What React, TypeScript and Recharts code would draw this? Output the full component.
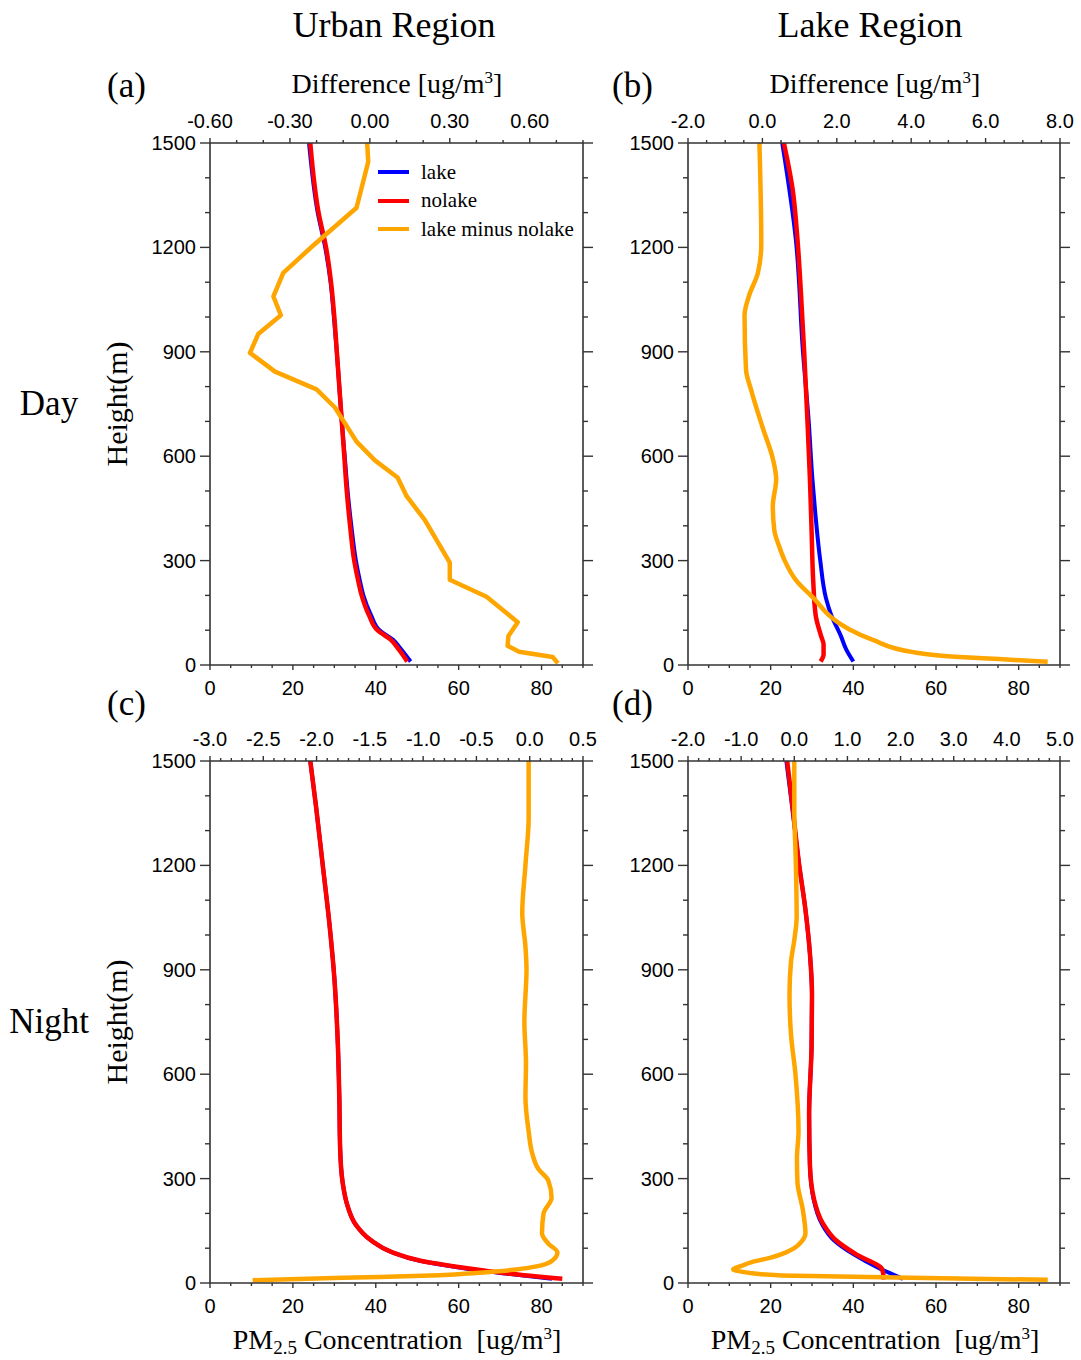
import React from 'react';
import { LineChart, Line, XAxis, YAxis, Legend } from 'recharts';

const SANS = '"Liberation Sans", Arial, Helvetica, sans-serif';
const SERIF = '"Liberation Serif", "Times New Roman", Times, serif';
const AXIS_COLOR = '#333333';
const C_LAKE = '#0000ff';
const C_NOLAKE = '#ff0000';
const C_DIFF = '#ffa500';

// ---------------- Panel (a) Urban / Day ----------------
const lakeA_h = [1500, 1300, 1200, 1100, 1000, 900, 800, 700, 600, 500, 400, 300, 240, 200, 142, 100, 73, 44, 10];
const lakeA_v = [23.9, 26.0, 27.8, 29.1, 29.9, 30.6, 31.2, 31.8, 32.5, 33.2, 34.1, 35.2, 36.2, 37.0, 38.9, 40.9, 44.1, 46.2, 48.4];
const nolakeA_h = [1500, 1300, 1200, 1100, 1000, 900, 800, 700, 600, 500, 400, 300, 240, 200, 142, 100, 73, 44, 10];
const nolakeA_v = [24.2, 26.2, 28.0, 29.2, 30.0, 30.6, 31.2, 31.8, 32.4, 33.0, 33.8, 34.8, 35.8, 36.6, 38.4, 40.4, 43.6, 45.6, 47.6];
const diffA_h = [1500, 1446, 1314, 1201, 1127, 1059, 1005, 951, 897, 843, 792, 740, 642, 588, 539, 485, 417, 294, 245, 196, 123, 83, 55, 38, 23, 5];
const diffA_v = [-0.01, -0.006, -0.05, -0.219, -0.325, -0.362, -0.334, -0.419, -0.45, -0.356, -0.2, -0.131, -0.05, 0.019, 0.104, 0.138, 0.206, 0.3, 0.3, 0.438, 0.555, 0.52, 0.517, 0.56, 0.686, 0.706];

// ---------------- Panel (b) Lake / Day ----------------
const lakeB_h = [1500, 1221, 902, 701, 534, 436, 300, 191, 145, 83, 44, 10];
const lakeB_v = [22.8, 26.1, 27.8, 29.2, 30.1, 30.8, 32.0, 33.4, 34.6, 37.0, 38.3, 40.0];
const nolakeB_h = [1500, 1368, 1221, 1074, 902, 701, 534, 387, 240, 142, 83, 59, 30, 10];
const nolakeB_v = [23.2, 25.3, 26.5, 27.3, 28.1, 28.9, 29.5, 29.9, 30.3, 30.9, 32.2, 32.8, 32.8, 32.1];
const diffB_h = [1500, 1211, 1127, 1064, 1005, 848, 789, 681, 593, 534, 456, 387, 338, 300, 244, 187, 142, 121, 103, 72, 37, 23, 17, 9];
const diffB_v = [-0.08, -0.03, -0.12, -0.35, -0.48, -0.44, -0.3, 0.01, 0.28, 0.37, 0.28, 0.32, 0.46, 0.6, 0.9, 1.42, 1.8, 2.05, 2.33, 2.97, 4.05, 5.3, 6.36, 7.67];

// ---------------- Panel (c) Urban / Night ----------------
const lakeC_h = [1500, 1368, 1201, 1034, 877, 701, 534, 387, 289, 221, 167, 123, 88, 64, 44, 29, 12];
const lakeC_v = [24.2, 25.6, 27.2, 28.8, 30.0, 30.8, 31.2, 31.4, 32.0, 33.2, 35.2, 38.8, 44.0, 50.6, 60.5, 70.0, 82.5];
const nolakeC_h = [1500, 1368, 1201, 1034, 877, 701, 534, 387, 289, 221, 167, 123, 88, 64, 44, 29, 12];
const nolakeC_v = [24.2, 25.6, 27.2, 28.8, 30.0, 30.8, 31.2, 31.4, 32.0, 33.2, 35.2, 38.8, 44.0, 50.8, 61.2, 70.8, 85.0];
const diffC_h = [1500, 1338, 1201, 1064, 966, 902, 750, 632, 534, 436, 377, 328, 294, 245, 200, 143, 113, 88, 64, 50, 38, 29, 22, 15, 8];
const diffC_v = [-0.01, -0.01, -0.04, -0.07, -0.04, -0.03, -0.05, -0.035, -0.04, -0.01, 0.02, 0.08, 0.175, 0.205, 0.13, 0.115, 0.175, 0.26, 0.21, 0.1, -0.15, -0.5, -0.85, -1.75, -2.6];

// ---------------- Panel (d) Lake / Night ----------------
const lakeD_h = [1500, 1368, 1201, 1074, 946, 828, 681, 485, 338, 240, 172, 123, 83, 44, 12];
const lakeD_v = [23.8, 25.2, 26.9, 28.4, 29.5, 30.0, 29.9, 29.3, 29.5, 30.4, 32.3, 35.3, 40.0, 46.0, 52.0];
const nolakeD_h = [1500, 1368, 1201, 1074, 946, 828, 681, 485, 338, 240, 172, 123, 83, 39, 10];
const nolakeD_v = [24.0, 25.3, 26.9, 28.4, 29.5, 30.0, 29.9, 29.3, 29.5, 30.5, 32.6, 35.8, 40.6, 47.0, 47.4];
const diffD_h = [1500, 1368, 1201, 1054, 985, 926, 828, 711, 603, 436, 358, 289, 211, 143, 118, 100, 88, 72, 60, 50, 39, 32, 22, 16, 9];
const diffD_v = [0.0, 0.0, 0.03, 0.045, 0.0, -0.06, -0.09, -0.06, 0.02, 0.08, 0.05, 0.06, 0.16, 0.21, 0.13, 0.0, -0.155, -0.46, -0.8, -0.98, -1.15, -0.97, -0.3, 1.9, 4.77];

// ---------------- Axes / ticks ----------------
const concTicks = [0, 5, 10, 15, 20, 25, 30, 35, 40, 45, 50, 55, 60, 65, 70, 75, 80, 85, 90];
const concLabels = [0, 20, 40, 60, 80];
const heightTicks = [0, 100, 200, 300, 400, 500, 600, 700, 800, 900, 1000, 1100, 1200, 1300, 1400, 1500];
const heightLabels = [0, 300, 600, 900, 1200, 1500];

const topTicksA = [-0.6, -0.5, -0.4, -0.3, -0.2, -0.1, 0, 0.1, 0.2, 0.3, 0.4, 0.5, 0.6, 0.7, 0.8];
const topLabelsA = [-0.6, -0.3, 0, 0.3, 0.6];
const topTicksB = [-2, -1.5, -1, -0.5, 0, 0.5, 1, 1.5, 2, 2.5, 3, 3.5, 4, 4.5, 5, 5.5, 6, 6.5, 7, 7.5, 8];
const topLabelsB = [-2, 0, 2, 4, 6, 8];
const topTicksC = [-3, -2.9, -2.8, -2.7, -2.6, -2.5, -2.4, -2.3, -2.2, -2.1, -2, -1.9, -1.8, -1.7, -1.6, -1.5, -1.4, -1.3, -1.2, -1.1, -1, -0.9, -0.8, -0.7, -0.6, -0.5, -0.4, -0.3, -0.2, -0.1, 0, 0.1, 0.2, 0.3, 0.4, 0.5];
const topLabelsC = [-3, -2.5, -2, -1.5, -1, -0.5, 0, 0.5];
const topTicksD = [-2, -1.8, -1.6, -1.4, -1.2, -1, -0.8, -0.6, -0.4, -0.2, 0, 0.2, 0.4, 0.6, 0.8, 1, 1.2, 1.4, 1.6, 1.8, 2, 2.2, 2.4, 2.6, 2.8, 3, 3.2, 3.4, 3.6, 3.8, 4, 4.2, 4.4, 4.6, 4.8, 5];
const topLabelsD = [-2, -1, 0, 1, 2, 3, 4, 5];

const seriesNames = ['lake', 'nolake', 'lake minus nolake'];
const columnTitles = ['Urban Region', 'Lake Region'];
const rowTitles = ['Day', 'Night'];
const panelLetters = ['(a)', '(b)', '(c)', '(d)'];

type Row = { h: number; v: number };
const toRows = (hs: number[], vs: number[]): Row[] => hs.map((h, i) => ({ h, v: vs[i] }));

const isIn = (list: number[], v: number) => list.some((m) => Math.abs(m - v) < 1e-6);
const fmt = (v: number, digits: number) => (Math.abs(v) < 1e-9 ? 0 : v).toFixed(digits);

const axisLineStyle = { stroke: AXIS_COLOR, strokeWidth: 1.6 };
const TW = 1.4;

const leftTick = (props: any) => {
  const { x, y, payload } = props;
  const major = isIn(heightLabels, payload.value);
  return (
    <g>
      <line x1={x} y1={y} x2={x - (major ? 10 : 5)} y2={y} stroke={AXIS_COLOR} strokeWidth={TW} />
      {major && (
        <text x={x - 14} y={y + 7} textAnchor="end" fontFamily={SANS} fontSize={20} fill="#000">
          {payload.value}
        </text>
      )}
    </g>
  );
};

const rightTick = (props: any) => {
  const { x, y, payload } = props;
  const major = isIn(heightLabels, payload.value);
  return <line x1={x} y1={y} x2={x + (major ? 10 : 5)} y2={y} stroke={AXIS_COLOR} strokeWidth={TW} />;
};

const bottomTick = (props: any) => {
  const { x, y, payload } = props;
  const major = isIn(concLabels, payload.value);
  return (
    <g>
      <line x1={x} y1={y} x2={x} y2={y + (major ? 5 : 3)} stroke={AXIS_COLOR} strokeWidth={TW} />
      {major && (
        <text x={x} y={y + 30} textAnchor="middle" fontFamily={SANS} fontSize={20} fill="#000">
          {payload.value}
        </text>
      )}
    </g>
  );
};

const makeTopTick = (labels: number[], digits: number) => (props: any) => {
  const { x, y, payload } = props;
  const major = isIn(labels, payload.value);
  return (
    <g>
      <line x1={x} y1={y} x2={x} y2={y - (major ? 5 : 3)} stroke={AXIS_COLOR} strokeWidth={TW} />
      {major && (
        <text x={x} y={y - 15} textAnchor="middle" fontFamily={SANS} fontSize={20} fill="#000">
          {fmt(payload.value, digits)}
        </text>
      )}
    </g>
  );
};

const renderLegend = (props: any) => {
  const payload: any[] = props.payload || [];
  const items = seriesNames.map((n) => payload.find((p) => p.value === n)).filter(Boolean);
  return (
    <div style={{ fontFamily: SERIF, fontSize: 21, color: '#000' }}>
      {items.map((it: any) => (
        <div key={it.value} style={{ display: 'flex', alignItems: 'center', height: 28.5 }}>
          <svg width={31} height={6} style={{ display: 'block' }}>
            <line x1={0} y1={3} x2={31} y2={3} stroke={it.color} strokeWidth={4} />
          </svg>
          <span style={{ marginLeft: 12, lineHeight: '21px', whiteSpace: 'nowrap' }}>{it.value}</span>
        </div>
      ))}
    </div>
  );
};

interface PanelProps {
  left: number;
  top: number;
  marginRight: number;
  lake: Row[];
  nolake: Row[];
  diff: Row[];
  topDomain: [number, number];
  topTicks: number[];
  topLabels: number[];
  topDigits: number;
  diffCurve: 'linear' | 'monotoneY';
  legend?: boolean;
}

function Panel(p: PanelProps) {
  return (
    <div style={{ position: 'absolute', left: p.left, top: p.top }}>
      <LineChart
        layout="vertical"
        width={500}
        height={630}
        margin={{ top: 13, right: p.marginRight, bottom: 20, left: 50 }}
      >
        <XAxis
          xAxisId="bottom"
          orientation="bottom"
          type="number"
          domain={[0, 90]}
          allowDataOverflow
          ticks={concTicks}
          interval={0}
          height={35}
          tickSize={0}
          tickMargin={0}
          tickLine={false}
          axisLine={axisLineStyle}
          tick={bottomTick}
        />
        <XAxis
          xAxisId="top"
          orientation="top"
          type="number"
          domain={p.topDomain}
          allowDataOverflow
          ticks={p.topTicks}
          interval={0}
          height={40}
          tickSize={0}
          tickMargin={0}
          tickLine={false}
          axisLine={axisLineStyle}
          tick={makeTopTick(p.topLabels, p.topDigits)}
        />
        <YAxis
          yAxisId="left"
          orientation="left"
          type="number"
          dataKey="h"
          domain={[0, 1500]}
          reversed
          allowDataOverflow
          ticks={heightTicks}
          interval={0}
          width={60}
          tickSize={0}
          tickMargin={0}
          tickLine={false}
          axisLine={axisLineStyle}
          tick={leftTick}
        />
        <YAxis
          yAxisId="right"
          orientation="right"
          type="number"
          dataKey="h"
          domain={[0, 1500]}
          reversed
          allowDataOverflow
          ticks={heightTicks}
          interval={0}
          width={12}
          tickSize={0}
          tickMargin={0}
          tickLine={false}
          axisLine={axisLineStyle}
          tick={rightTick}
        />
        <Line
          xAxisId="bottom"
          yAxisId="left"
          data={p.lake}
          dataKey="v"
          name={seriesNames[0]}
          stroke={C_LAKE}
          strokeWidth={4}
          dot={false}
          activeDot={false}
          type="monotoneY"
          isAnimationActive={false}
        />
        <Line
          xAxisId="bottom"
          yAxisId="left"
          data={p.nolake}
          dataKey="v"
          name={seriesNames[1]}
          stroke={C_NOLAKE}
          strokeWidth={4.5}
          dot={false}
          activeDot={false}
          type="monotoneY"
          isAnimationActive={false}
        />
        <Line
          xAxisId="top"
          yAxisId="left"
          data={p.diff}
          dataKey="v"
          name={seriesNames[2]}
          stroke={C_DIFF}
          strokeWidth={4.5}
          strokeLinejoin="round"
          dot={false}
          activeDot={false}
          type={p.diffCurve}
          isAnimationActive={false}
        />
        {p.legend && (
          <Legend
            layout="vertical"
            align="center"
            verticalAlign="middle"
            content={renderLegend}
            wrapperStyle={{ left: 278, top: 68, width: 'auto', height: 'auto' }}
          />
        )}
      </LineChart>
    </div>
  );
}

const supTitle = (x: number, y: number, main: string) => (
  <text x={x} y={y} textAnchor="middle" fontSize={28} fontFamily={SERIF} fill="#000">
    {main}
    <tspan dy={-10} fontSize={17}>3</tspan>
    <tspan dy={10}>]</tspan>
  </text>
);

const pmTitle = (x: number, y: number) => (
  <text x={x} y={y} textAnchor="middle" fontSize={28} fontFamily={SERIF} fill="#000" style={{ whiteSpace: 'pre' }}>
    PM
    <tspan dy={5} fontSize={19}>2.5</tspan>
    <tspan dy={-5}>{' Concentration  [ug/m'}</tspan>
    <tspan dy={-10} fontSize={17}>3</tspan>
    <tspan dy={10}>]</tspan>
  </text>
);

function Overlay() {
  return (
    <svg
      width={1081}
      height={1360}
      style={{ position: 'absolute', left: 0, top: 0, pointerEvents: 'none' }}
    >
      <g fontFamily={SERIF} fill="#000">
        <text x={394} y={37} fontSize={36} textAnchor="middle">{columnTitles[0]}</text>
        <text x={870} y={37} fontSize={36} textAnchor="middle">{columnTitles[1]}</text>
        <text x={49} y={415} fontSize={35} textAnchor="middle">{rowTitles[0]}</text>
        <text x={49} y={1033} fontSize={35} textAnchor="middle">{rowTitles[1]}</text>
        <text x={107} y={97} fontSize={35}>{panelLetters[0]}</text>
        <text x={612} y={97} fontSize={35}>{panelLetters[1]}</text>
        <text x={107} y={715} fontSize={35}>{panelLetters[2]}</text>
        <text x={612} y={715} fontSize={35}>{panelLetters[3]}</text>
        <text transform="translate(127,404) rotate(-90)" fontSize={30} textAnchor="middle">Height(m)</text>
        <text transform="translate(127,1022) rotate(-90)" fontSize={30} textAnchor="middle">Height(m)</text>
      </g>
      {supTitle(397, 93, 'Difference [ug/m')}
      {supTitle(875, 93, 'Difference [ug/m')}
      {pmTitle(397, 1349)}
      {pmTitle(875, 1349)}
    </svg>
  );
}

export default function App() {
  return (
    <div
      style={{
        position: 'absolute',
        left: 0,
        top: 0,
        width: 1081,
        height: 1360,
        background: '#ffffff',
        overflow: 'hidden',
      }}
    >
      <Panel
        left={100}
        top={90}
        marginRight={5}
        lake={toRows(lakeA_h, lakeA_v)}
        nolake={toRows(nolakeA_h, nolakeA_v)}
        diff={toRows(diffA_h, diffA_v)}
        topDomain={[-0.6, 0.8]}
        topTicks={topTicksA}
        topLabels={topLabelsA}
        topDigits={2}
        diffCurve="linear"
        legend
      />
      <Panel
        left={578}
        top={90}
        marginRight={6}
        lake={toRows(lakeB_h, lakeB_v)}
        nolake={toRows(nolakeB_h, nolakeB_v)}
        diff={toRows(diffB_h, diffB_v)}
        topDomain={[-2, 8]}
        topTicks={topTicksB}
        topLabels={topLabelsB}
        topDigits={1}
        diffCurve="monotoneY"
      />
      <Panel
        left={100}
        top={708}
        marginRight={5}
        lake={toRows(lakeC_h, lakeC_v)}
        nolake={toRows(nolakeC_h, nolakeC_v)}
        diff={toRows(diffC_h, diffC_v)}
        topDomain={[-3, 0.5]}
        topTicks={topTicksC}
        topLabels={topLabelsC}
        topDigits={1}
        diffCurve="monotoneY"
      />
      <Panel
        left={578}
        top={708}
        marginRight={6}
        lake={toRows(lakeD_h, lakeD_v)}
        nolake={toRows(nolakeD_h, nolakeD_v)}
        diff={toRows(diffD_h, diffD_v)}
        topDomain={[-2, 5]}
        topTicks={topTicksD}
        topLabels={topLabelsD}
        topDigits={1}
        diffCurve="monotoneY"
      />
      <Overlay />
    </div>
  );
}
